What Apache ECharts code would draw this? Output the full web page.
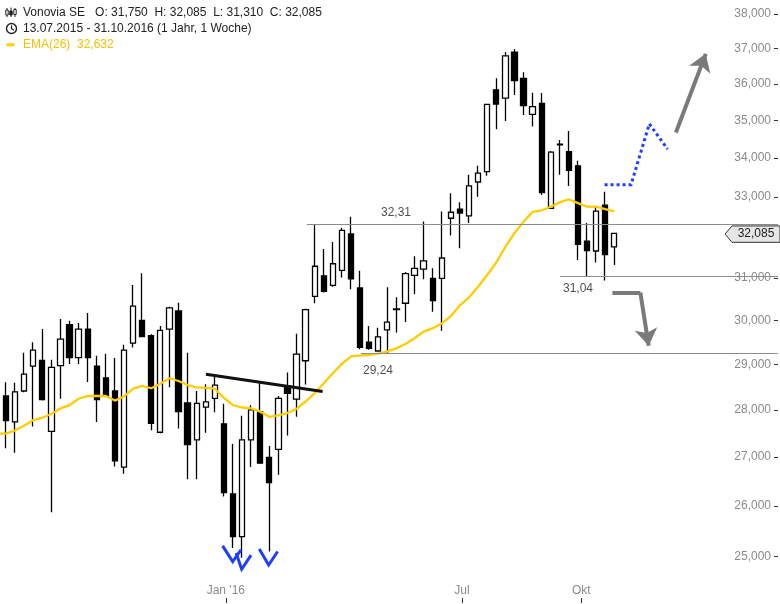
<!DOCTYPE html>
<html><head><meta charset="utf-8">
<script src="https://cdn.jsdelivr.net/npm/echarts@6/dist/echarts.min.js"></script>
<style>html,body{margin:0;padding:0;background:#fff}#c{width:780px;height:604px}</style>
</head><body><div id="c"></div>
<script>
// ---- data (weekly candles, EUR) ----
const weeks = ['2015-07-06','2015-07-13','2015-07-20','2015-07-27','2015-08-03','2015-08-10','2015-08-17','2015-08-24','2015-08-31','2015-09-07',
'2015-09-14','2015-09-21','2015-09-28','2015-10-05','2015-10-12','2015-10-19','2015-10-26','2015-11-02','2015-11-09','2015-11-16',
'2015-11-23','2015-11-30','2015-12-07','2015-12-14','2015-12-21','2015-12-28','2016-01-04','2016-01-11','2016-01-18','2016-01-25',
'2016-02-01','2016-02-08','2016-02-15','2016-02-22','2016-02-29','2016-03-07','2016-03-14','2016-03-21','2016-03-28','2016-04-04',
'2016-04-11','2016-04-18','2016-04-25','2016-05-02','2016-05-09','2016-05-16','2016-05-23','2016-05-30','2016-06-06','2016-06-13',
'2016-06-20','2016-06-27','2016-07-04','2016-07-11','2016-07-18','2016-07-25','2016-08-01','2016-08-08','2016-08-15','2016-08-22',
'2016-08-29','2016-09-05','2016-09-12','2016-09-19','2016-09-26','2016-10-03','2016-10-10','2016-10-17','2016-10-24'];
const opens = [27.54,28.30,27.74,28.41,28.96,29.09,27.54,28.97,29.90,29.15,
29.80,28.96,28.70,28.41,26.79,29.48,30.00,29.65,27.52,29.80,
30.22,28.15,27.36,28.06,28.25,27.70,26.24,25.39,27.36,27.96,
26.99,27.16,28.52,28.23,29.08,30.56,31.05,30.82,31.18,32.07,
30.76,29.50,29.30,29.78,30.25,30.40,31.06,31.21,30.99,30.99,
32.46,32.69,32.52,33.38,33.65,35.84,35.61,36.90,36.16,35.17,
35.47,32.71,34.35,34.17,33.80,31.89,31.65,32.79,31.75];
const highs = [28.44,28.60,28.59,29.26,29.50,29.80,29.10,30.03,29.99,29.94,
30.17,29.19,29.24,29.14,29.44,30.83,31.11,29.68,29.87,30.32,
30.41,29.26,28.41,28.56,28.72,28.13,27.27,27.87,28.10,28.60,
27.23,28.30,28.82,29.69,30.27,32.31,31.70,31.87,32.22,32.50,
31.17,29.87,29.83,30.78,30.54,31.14,31.52,32.38,31.23,32.63,
33.09,32.86,33.57,33.80,35.45,36.16,36.90,36.99,36.33,35.76,
35.75,34.19,34.48,34.72,33.93,32.34,32.74,33.13,32.085];
const lows = [27.44,27.18,27.09,28.38,27.64,28.20,25.87,28.24,29.01,29.01,
28.61,27.74,28.29,26.80,26.65,29.38,29.62,27.56,27.50,28.49,
27.60,26.54,26.54,27.51,27.95,26.19,25.17,24.98,26.79,26.86,
25.10,26.63,27.45,27.85,28.55,30.40,30.65,30.79,31.01,30.73,
29.34,29.33,29.29,29.24,29.72,29.96,30.61,30.97,30.20,29.76,
32.03,31.72,32.34,33.00,33.54,34.77,34.99,35.70,35.15,34.84,
33.05,32.70,33.57,33.28,31.43,31.04,31.37,30.94,31.31];
const closes = [28.30,27.77,28.39,28.78,29.32,28.22,28.93,29.57,29.15,29.80,
29.15,28.22,28.30,26.92,29.32,30.33,29.63,27.71,29.77,30.29,
27.96,27.26,28.14,28.17,28.54,26.27,25.39,27.36,28.00,26.87,
26.47,28.25,28.36,29.23,30.25,31.28,30.68,31.34,32.16,30.98,
29.38,29.36,29.62,29.96,30.27,31.10,31.23,31.41,30.46,31.48,
32.61,32.59,33.28,33.61,35.44,35.45,36.79,36.10,35.41,35.38,
33.11,34.16,34.37,33.68,31.81,31.66,32.64,31.56,32.085];
const ema26 = [27.49,27.49,27.56,27.66,27.78,27.83,27.91,28.03,28.10,28.24,
28.30,28.30,28.30,28.20,28.29,28.46,28.52,28.47,28.57,28.69,
28.63,28.54,28.49,28.48,28.46,28.26,28.10,28.05,28.03,27.96,
27.85,27.88,27.93,28.02,28.18,28.36,28.58,28.80,29.01,29.18,
29.20,29.21,29.24,29.29,29.36,29.46,29.59,29.74,29.82,29.93,
30.10,30.35,30.54,30.79,31.07,31.37,31.75,32.09,32.37,32.62,
32.66,32.75,32.86,32.94,32.84,32.75,32.75,32.69,32.632];

const yTicks = [25,26,27,28,29,30,31,32,33,34,35,36,37,38];
const xTickDates = ['2016-01-01','2016-07-01','2016-10-01'];
const xTickLabels = ["Jan '16", 'Jul', 'Okt'];

const instrument = 'Vonovia SE';
const periodText = '13.07.2015 - 31.10.2016 (1 Jahr, 1 Woche)';

// annotations (date, price)
const levelValues = [32.31, 29.24, 31.04];
const levelStarts = ['2016-03-03T10:00', '2016-04-14T05:00', '2016-09-14T14:00'];
const levelLabelDates = ['2016-05-11T05:00', '2016-04-27T07:00', '2016-09-28T12:00'];
const levelLabelSide = ['top', 'bottom', 'bottom'];
const trendLine = [['2015-12-16T16:00', 28.78], ['2016-03-15T14:00', 28.40]];
const bluePath = [['2016-10-19', 33.31], ['2016-11-08T10:00', 33.31], ['2016-11-22T12:00', 34.91], ['2016-12-06T14:00', 34.24]];
const upArrow = [['2016-12-13', 34.68], ['2017-01-05T00:00', 36.85]];
const downArrowA = [['2016-10-25', 30.65], ['2016-11-15T14:00', 30.65]];
const downArrowB = [['2016-11-15T14:00', 30.65], ['2016-11-22T00:00', 29.42]];
const vMarks = [
  [['2015-12-29T12:00', 25.21], ['2016-01-06T07:00', 24.905], ['2016-01-12T17:00', 25.13]],
  [['2016-01-08T22:00', 25.07], ['2016-01-13T05:00', 24.76], ['2016-01-20T10:00', 25.03]],
  [['2016-01-26T19:00', 25.15], ['2016-02-03T00:00', 24.84], ['2016-02-09T22:00', 25.10]]
];

// ---- helpers ----
const ts = s => new Date(s.length <= 10 ? s + 'T00:00:00' : s).getTime();
const DAY = 86400000;
const candleTime = w => ts(w) + 2.5 * DAY; // weekly candle drawn mid-week
const fmt = (v, d) => v.toFixed(d).replace('.', ',');
const P = pts => pts.map(p => [ts(p[0]), p[1]]);

const xMin = ts('2015-07-10T21:00');
const xMax = ts('2017-03-01T17:00');
const yMin = 24.216, yMax = 38.413;
const FONT = 'Liberation Sans, Arial, sans-serif';

const candleData = weeks.map((w, i) => [candleTime(w), opens[i], closes[i], lows[i], highs[i]]);
const emaData = weeks.map((w, i) => [candleTime(w), ema26[i]]);
const xTickTs = xTickDates.map(ts);
const xLabelFor = v => { let k = 0, best = Infinity; xTickTs.forEach((t, i) => { const d = Math.abs(t - v); if (d < best) { best = d; k = i; } }); return xTickLabels[k]; };

const chart = echarts.init(document.getElementById('c'), null, {renderer: 'canvas'});
const option = {
  animation: false,
  backgroundColor: '#fff',
  textStyle: {fontFamily: FONT},
  grid: {left: 0, right: 2, top: 0, bottom: 6, outerBoundsMode: 'none', containLabel: false},
  xAxis: {
    type: 'value', min: xMin, max: xMax, scale: true,
    axisLine: {show: false},
    axisTick: {show: true, length: 5, lineStyle: {color: '#333', width: 1}, customValues: xTickTs},
    axisLabel: {inside: true, margin: 1, color: '#8a8a8a', fontSize: 12, fontFamily: FONT,
      customValues: xTickTs, formatter: v => xLabelFor(v)},
    splitLine: {show: false}
  },
  yAxis: {
    type: 'log', logBase: 10, position: 'right', min: yMin, max: yMax,
    axisLine: {show: false},
    axisTick: {show: true, inside: true, length: 4, lineStyle: {color: '#333', width: 1}, customValues: yTicks},
    axisLabel: {inside: true, margin: 7, color: '#8a8a8a', fontSize: 12, fontFamily: FONT,
      customValues: yTicks, formatter: v => fmt(v, 3)},
    splitLine: {show: false}
  },
  series: [
    {type: 'candlestick', data: candleData, encode: {x: 0, y: [1, 2, 3, 4]}, barWidth: 5.8, z: 2,
      itemStyle: {color: '#ffffff', color0: '#000000', borderColor: '#000000', borderColor0: '#000000', borderWidth: 1.3}},
    {type: 'line', data: emaData, symbol: 'none', z: 3, lineStyle: {color: '#ffcc00', width: 2.3}},
    {type: 'lines', coordinateSystem: 'cartesian2d', z: 4, silent: true,
      data: levelValues.map((v, i) => ({coords: [[ts(levelStarts[i]), v], [xMax, v]]})),
      lineStyle: {color: '#8c8c8c', width: 1.2, opacity: 1}},
    {type: 'scatter', symbolSize: 0, z: 5, silent: true,
      data: levelValues.map((v, i) => ({value: [ts(levelLabelDates[i]), v],
        label: {show: true, position: levelLabelSide[i], distance: levelLabelSide[i] === 'top' ? 6 : (i === 1 ? 11 : 6)}})),
      label: {color: '#222', fontSize: 12, fontFamily: FONT, formatter: p => fmt(p.value[1], 2)}},
    {type: 'lines', coordinateSystem: 'cartesian2d', z: 5, silent: true,
      data: [{coords: P(trendLine)}], lineStyle: {color: '#111', width: 3, opacity: 1}},
    {type: 'lines', coordinateSystem: 'cartesian2d', polyline: true, z: 5, silent: true,
      data: [{coords: P(bluePath)}], lineStyle: {color: '#1f3dff', width: 3, type: [3, 3], cap: 'butt', opacity: 1}},
    {type: 'lines', coordinateSystem: 'cartesian2d', polyline: true, z: 5, silent: true,
      data: vMarks.map(v => ({coords: P(v)})), lineStyle: {color: '#1f3dff', width: 3, join: 'miter', opacity: 1}},
    {type: 'lines', coordinateSystem: 'cartesian2d', z: 5, silent: true,
      data: [{coords: P(downArrowA)}], lineStyle: {color: '#7a7a7a', width: 4, opacity: 1}},
    {type: 'lines', coordinateSystem: 'cartesian2d', z: 5, silent: true,
      symbol: ['none', 'arrow'], symbolSize: [15, 17],
      data: [{coords: P(downArrowB)}, {coords: P(upArrow)}],
      itemStyle: {color: '#7a7a7a'},
      lineStyle: {color: '#7a7a7a', width: 4, opacity: 1}}
  ]
};
chart.setOption(option);

// header + current price tag
const last = closes.length - 1;
const header1 = instrument + '   O: ' + fmt(opens[last], 3) + '  H: ' + fmt(highs[last], 3) + '  L: ' + fmt(lows[last], 3) + '  C: ' + fmt(closes[last], 3);
const header3 = 'EMA(26)  ' + fmt(ema26[last], 3);
const yTag = chart.convertToPixel({yAxisIndex: 0}, closes[last]);
const txt = (x, y, text, fill) => ({type: 'text', x: x, y: y, z: 100,
  style: {text: text, fill: fill, font: '12px ' + FONT, verticalAlign: 'middle', textVerticalAlign: 'middle'}});
chart.setOption({graphic: [
  {type: 'line', shape: {x1: 7, y1: 8, x2: 7, y2: 17}, style: {stroke: '#222', lineWidth: 1}, z: 100},
  {type: 'rect', shape: {x: 5.8, y: 10, width: 2.4, height: 5}, style: {fill: '#fff', stroke: '#222', lineWidth: 1}, z: 100},
  {type: 'line', shape: {x1: 11, y1: 7.5, x2: 11, y2: 17}, style: {stroke: '#222', lineWidth: 1}, z: 100},
  {type: 'rect', shape: {x: 9.8, y: 11, width: 2.4, height: 4}, style: {fill: '#222', stroke: '#222', lineWidth: 1}, z: 100},
  {type: 'line', shape: {x1: 15, y1: 8, x2: 15, y2: 17}, style: {stroke: '#222', lineWidth: 1}, z: 100},
  {type: 'rect', shape: {x: 13.8, y: 9.5, width: 2.4, height: 5}, style: {fill: '#fff', stroke: '#222', lineWidth: 1}, z: 100},
  txt(23, 12.5, header1, '#222'),
  {type: 'circle', shape: {cx: 11.5, cy: 28.5, r: 5}, style: {fill: 'none', stroke: '#222', lineWidth: 1.4}, z: 100},
  {type: 'polyline', shape: {points: [[11.5, 25.2], [11.5, 28.7], [14, 30.2]]}, style: {fill: 'none', stroke: '#222', lineWidth: 1.2}, z: 100},
  txt(23, 28.8, periodText, '#222'),
  {type: 'rect', shape: {x: 6.5, y: 43.3, width: 8, height: 3}, style: {fill: '#ffcc00'}, z: 100},
  txt(23, 44.8, header3, '#f5c200'),
  {type: 'polygon', z: 100, shape: {points: [[725, yTag + 0.8], [732, yTag - 7.4], [780, yTag - 7.4], [780, yTag + 9], [732, yTag + 9]]},
    style: {fill: '#e6e6e6', stroke: '#333', lineWidth: 1}},
  {type: 'text', x: 756, y: yTag + 0.8, z: 101, style: {text: fmt(closes[last], 3), fill: '#222', font: '12px ' + FONT, align: 'center', textAlign: 'center', verticalAlign: 'middle', textVerticalAlign: 'middle'}}
]});
</script>
</body></html>
